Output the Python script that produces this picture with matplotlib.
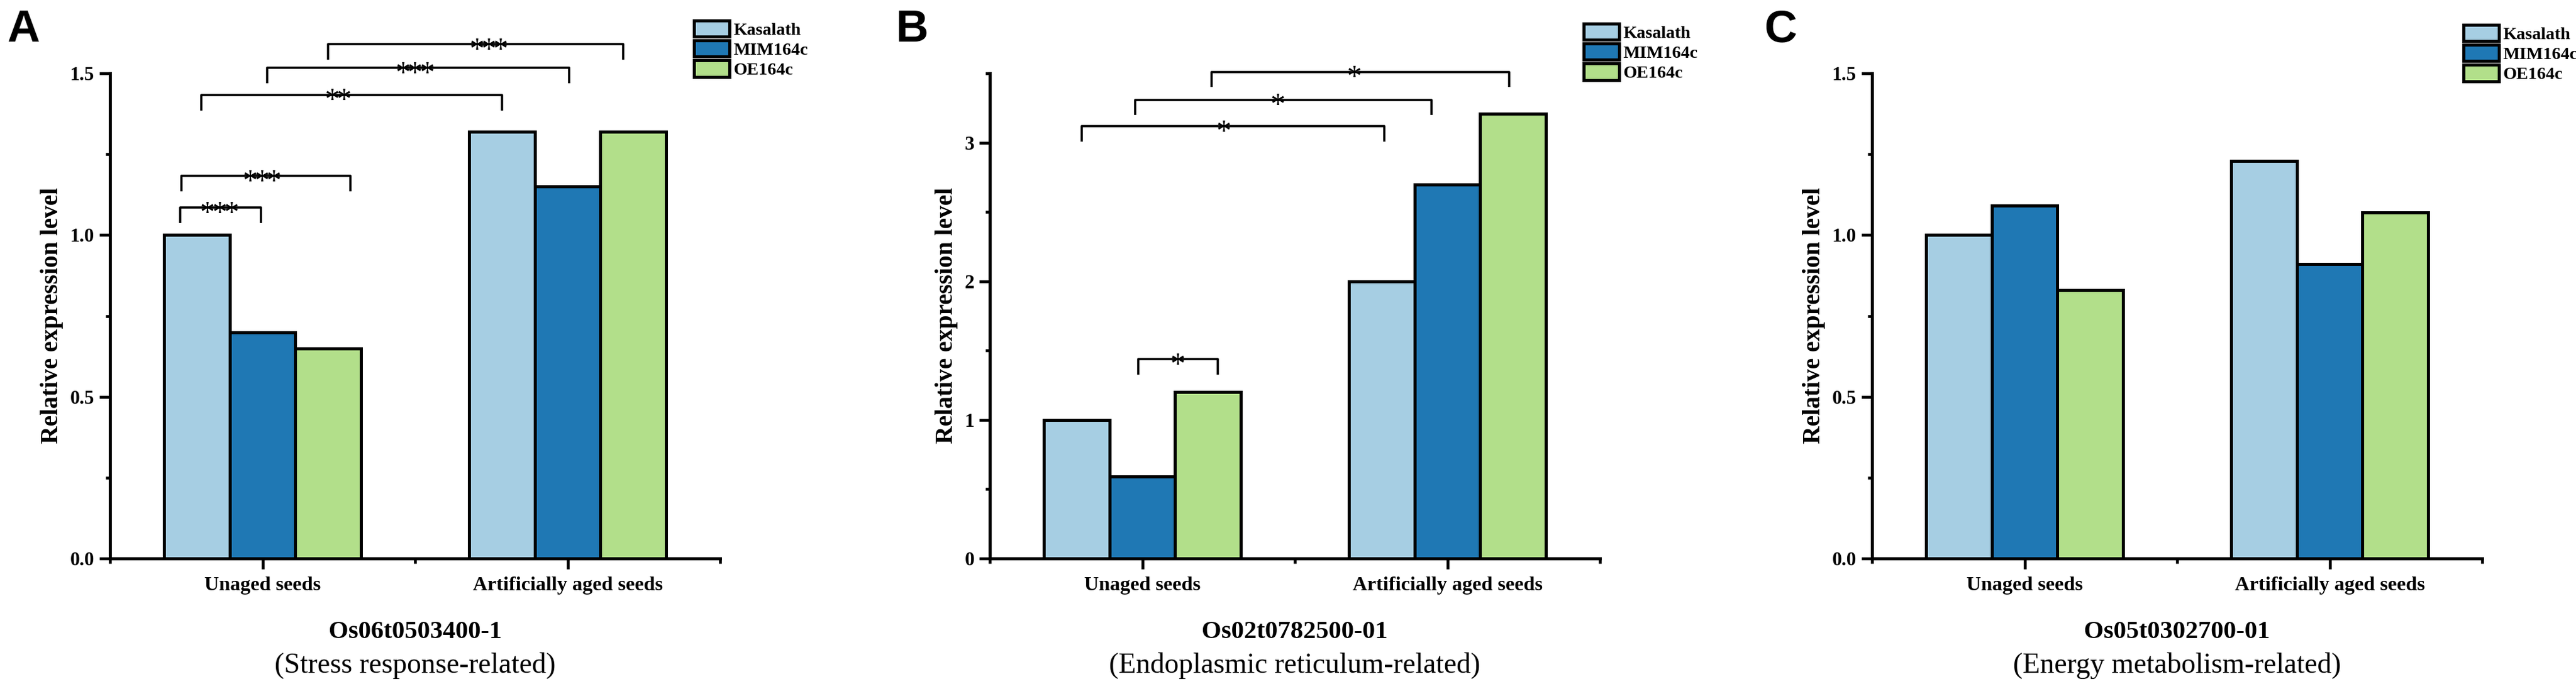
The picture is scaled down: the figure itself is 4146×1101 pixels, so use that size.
"""Relative expression of three seed-ageing genes in Kasalath / MIM164c / OE164c."""
import matplotlib
import matplotlib.pyplot as plt
from matplotlib.ticker import MultipleLocator, FixedLocator, FormatStrFormatter
import numpy as np

matplotlib.use("Agg")
plt.rcParams.update({
    "font.family": ["Liberation Serif", "DejaVu Serif"],
    "font.weight": "bold",
})

W_PX, H_PX, DPI = 4146, 1101, 300

GROUPS = ["Unaged seeds", "Artificially aged seeds"]
LINES = ["Kasalath", "MIM164c", "OE164c"]
COLORS = ["#A6CEE3", "#1F78B4", "#B2DF8A"]

# values per line: [unaged, aged]
A_KASALATH = [1.00, 1.32]
A_MIM164C = [0.70, 1.15]
A_OE164C = [0.65, 1.32]

B_KASALATH = [1.00, 2.00]
B_MIM164C = [0.59, 2.70]
B_OE164C = [1.20, 3.21]

C_KASALATH = [1.00, 1.23]
C_MIM164C = [1.09, 0.91]
C_OE164C = [0.83, 1.07]

GENES = ["Os06t0503400-1", "Os02t0782500-01", "Os05t0302700-01"]
ROLES = ["(Stress response-related)", "(Endoplasmic reticulum-related)",
         "(Energy metabolism-related)"]

# significance brackets: (left x, right x, bar height y, star x, label)
A_SIG = [
    (0.730, 0.994, 1.085, 0.859, "***"),
    (0.734, 1.289, 1.183, 0.998, "***"),
    (0.799, 1.785, 1.433, 1.248, "**"),
    (1.016, 2.006, 1.517, 1.500, "***"),
    (1.215, 2.182, 1.590, 1.742, "***"),
]
B_SIG = [
    (0.986, 1.247, 1.437, 1.116, "*"),
    (0.802, 1.794, 3.117, 1.267, "*"),
    (0.977, 1.949, 3.309, 1.444, "*"),
    (1.228, 2.202, 3.511, 1.694, "*"),
]
C_SIG = []

PANELS = [
    dict(letter="A", vals=[A_KASALATH, A_MIM164C, A_OE164C], sig=A_SIG,
         ymax=1.5, major=0.5, minor=0.25, fmt="%.1f", drop=0.048,
         left=177, letter_x=11, ylabel_x=84, legend=(1117, 33)),
    dict(letter="B", vals=[B_KASALATH, B_MIM164C, B_OE164C], sig=B_SIG,
         ymax=3.5, major=1.0, minor=0.5, fmt="%d", drop=0.11,
         left=1593, letter_x=1441, ylabel_x=1523, legend=(2549, 38)),
    dict(letter="C", vals=[C_KASALATH, C_MIM164C, C_OE164C], sig=C_SIG,
         ymax=1.5, major=0.5, minor=0.25, fmt="%.1f", drop=0.048,
         left=3013, letter_x=2840, ylabel_x=2920, legend=(3965, 40)),
]

AX_W_PX = 982
AX_TOP_PX, AX_BOT_PX = 118, 899
BAR_W = 0.215
STAR_FS = 11.5
STAR_STEP = 4.6   # points between neighbouring asterisks


def draw_stars(ax, x, y, label):
    n = len(label)
    for j, ch in enumerate(label):
        dx = (j - (n - 1) / 2) * STAR_STEP
        ax.annotate(ch, (x, y), xytext=(dx, -0.47 * STAR_FS),
                    textcoords="offset points", ha="center", va="baseline",
                    fontsize=STAR_FS, fontweight="normal",
                    annotation_clip=False, zorder=4)


def draw_panel(fig, i, p):
    ax = fig.add_axes([p["left"] / W_PX, 1 - AX_BOT_PX / H_PX,
                       AX_W_PX / W_PX, (AX_BOT_PX - AX_TOP_PX) / H_PX])
    x = np.arange(1, len(GROUPS) + 1)
    bars = []
    for k, (name, col) in enumerate(zip(LINES, COLORS)):
        b = ax.bar(x + (k - 1) * BAR_W, p["vals"][k], BAR_W, color=col,
                   edgecolor="black", linewidth=1.2, label=name, zorder=2)
        bars.append(b)

    ax.set_xlim(0.5, 2.5)
    ax.set_ylim(0, p["ymax"])
    ax.set_xticks(x)
    ax.set_xticklabels(GROUPS)
    ax.xaxis.set_minor_locator(FixedLocator([0.5, 1.5, 2.5]))
    ax.yaxis.set_major_locator(MultipleLocator(p["major"]))
    ax.yaxis.set_minor_locator(MultipleLocator(p["minor"]))
    ax.yaxis.set_major_formatter(FormatStrFormatter(p["fmt"]))

    for s in ("top", "right"):
        ax.spines[s].set_visible(False)
    for s in ("left", "bottom"):
        ax.spines[s].set_linewidth(1.2)
    ax.tick_params(which="major", length=4, width=1.1, direction="out")
    ax.tick_params(which="minor", length=1.8, width=1.1, direction="out")
    ax.tick_params(axis="x", which="major", labelsize=7.8, pad=3)
    ax.tick_params(axis="y", which="major", labelsize=7.5, pad=2)
    for t in ax.get_xticklabels() + ax.get_yticklabels():
        t.set_fontweight("bold")

    for x1, x2, y, sx, lab in p["sig"]:
        ax.plot([x1, x1, x2, x2], [y - p["drop"], y, y, y - p["drop"]],
                color="black", lw=0.85, clip_on=False, zorder=3,
                solid_capstyle="butt")
        draw_stars(ax, sx, y, lab)

    cx = ax.get_position().x0 + ax.get_position().width / 2
    fig.text(cx, 1 - 1027 / H_PX, GENES[i], ha="center", va="baseline",
             fontsize=9.8, fontweight="bold")
    fig.text(cx, 1 - 1083 / H_PX, ROLES[i], ha="center", va="baseline",
             fontsize=11, fontweight="normal")
    fig.text(p["ylabel_x"] / W_PX, 1 - 508 / H_PX, "Relative expression level",
             rotation=90, ha="center", va="center", fontsize=9.5,
             fontweight="bold")
    fig.text(p["letter_x"] / W_PX, 1 - 67 / H_PX, p["letter"],
             family=["Liberation Sans", "DejaVu Sans"], fontweight="bold",
             fontsize=17.5, ha="left", va="baseline")

    lx, ly = p["legend"]
    ax.legend(handles=bars, loc="upper left",
              bbox_to_anchor=(lx / W_PX, 1 - ly / H_PX),
              bbox_transform=fig.transFigure, frameon=False,
              prop={"family": "Liberation Serif", "weight": "bold", "size": 6.8},
              handlelength=2.0, handleheight=1.05, handletextpad=0.25,
              labelspacing=0.12, borderpad=0, borderaxespad=0)


def main():
    fig = plt.figure(figsize=(W_PX / DPI, H_PX / DPI), dpi=DPI)
    for i, p in enumerate(PANELS):
        draw_panel(fig, i, p)
    fig.savefig("out.png", dpi=DPI, facecolor="white")
    plt.close(fig)


if __name__ == "__main__":
    main()
